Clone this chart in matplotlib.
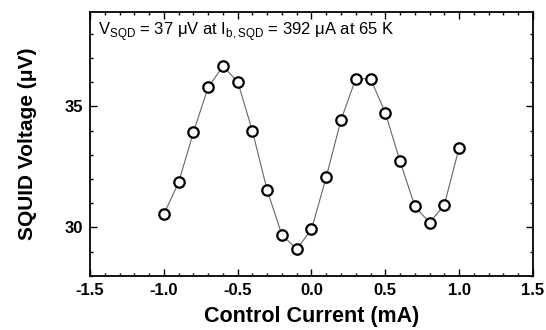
import numpy as np
import matplotlib
matplotlib.use('Agg')
import matplotlib.pyplot as plt
from matplotlib.ticker import MultipleLocator

plt.rcParams['font.family'] = ['Liberation Sans', 'DejaVu Sans']

# data
current = [-1.0, -0.9, -0.8, -0.7, -0.6, -0.5, -0.4, -0.3, -0.2, -0.1, 0.0,
           0.1, 0.2, 0.3, 0.4, 0.5, 0.6, 0.7, 0.8, 0.9, 1.0]
voltage = [30.55, 31.86, 33.93, 35.79, 36.65, 36.02, 33.97, 31.53, 29.69, 29.11, 29.92,
           32.08, 34.44, 36.14, 36.14, 34.74, 32.73, 30.88, 30.19, 30.94, 33.28]
xticks = [-1.5, -1.0, -0.5, 0.0, 0.5, 1.0, 1.5]
yticks = [30, 35]

fig = plt.figure(figsize=(5.46, 3.3), dpi=100)
ax = fig.add_axes([0.165, 0.164, 0.811, 0.8])

ax.plot(current, voltage, '-', color='#666666', lw=0.8, zorder=1)
ax.plot(current, voltage, 'o', mfc='white', mec='black', ms=7.5, mew=1.6, zorder=2)

ax.set_xlim(-1.5, 1.5)
ax.set_ylim(28, 38.9)
ax.set_xticks(xticks)
ax.set_xticklabels(['%.1f' % v for v in xticks])
ax.set_yticks(yticks)
ax.xaxis.set_minor_locator(MultipleLocator(0.1))
ax.yaxis.set_minor_locator(MultipleLocator(1))
ax.tick_params(which='both', direction='in', top=True, right=True, width=1)
ax.tick_params(which='major', length=5, labelsize=12, pad=5)
ax.tick_params(which='minor', length=2.5)
for lab in ax.get_xticklabels() + ax.get_yticklabels():
    lab.set_fontweight('bold')
for s in ax.spines.values():
    s.set_linewidth(1.3)

ax.set_xlabel('Control Current (mA)', fontsize=15.5, fontweight='bold', labelpad=6)
ax.set_ylabel('SQUID Voltage (μV)', fontsize=15, fontweight='bold', labelpad=20)

ax.text(0.018, 0.925,
        r'V$_\mathregular{SQD}$ = 37 μV at I$_\mathregular{b,SQD}$ = 392 μA at 65 K',
        transform=ax.transAxes, fontsize=12, va='center', ha='left')

fig.savefig('out.png', dpi=100)
